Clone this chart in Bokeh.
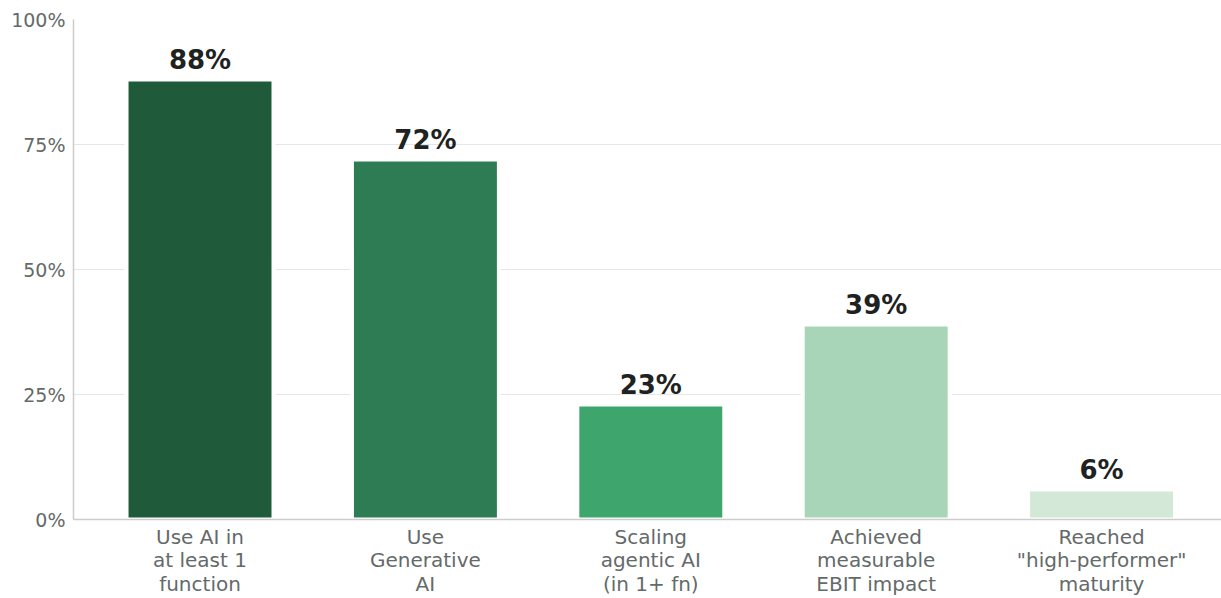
from bokeh.plotting import figure
from bokeh.models import ColumnDataSource, Range1d, PrintfTickFormatter, FixedTicker
from bokeh.core.properties import value
from bokeh.embed import file_html
from bokeh.resources import INLINE

categories = ["Use AI in\nat least 1\nfunction", "Use\nGenerative\nAI", "Scaling\nagentic AI\n(in 1+ fn)",
              "Achieved\nmeasurable\nEBIT impact", "Reached\n\"high-performer\"\nmaturity"]
values = [88, 72, 23, 39, 6]
labels = ["88%", "72%", "23%", "39%", "6%"]
colors = ["#1f5b3b", "#2e7c53", "#3ea66d", "#a8d5b8", "#d3e8d6"]

xs = list(range(len(categories)))
src = ColumnDataSource(dict(x=xs, top=values, lab=labels, color=colors))

p = figure(width=1221, height=598, output_backend="svg", toolbar_location=None,
           x_range=Range1d(-0.5613, 4.532), y_range=Range1d(0, 100),
           min_border_left=73, min_border_right=0, min_border_top=19, min_border_bottom=78)
p.outline_line_color = None

p.vbar(x="x", top="top", width=0.652, bottom=0, fill_color="color", line_color="white",
       line_width=4, source=src)
p.text(x="x", y="top", text="lab", source=src, text_align="center", text_baseline="bottom",
       y_offset=-5, text_font=value("DejaVu Sans"), text_font_style="bold",
       text_font_size="26px", text_color="#1e2322")

p.xgrid.grid_line_color = None
p.ygrid.grid_line_color = "#e6e6e6"
p.ygrid.grid_line_width = 1
p.yaxis.ticker = FixedTicker(ticks=[0, 25, 50, 75, 100])
p.yaxis.formatter = PrintfTickFormatter(format="%d%%")
p.xaxis.ticker = FixedTicker(ticks=xs)
p.xaxis.major_label_overrides = {i: c for i, c in enumerate(categories)}

for ax in (p.xaxis, p.yaxis):
    ax.axis_line_color = "#cccccc"
    ax.axis_line_width = 1.5
    ax.major_tick_line_color = None
    ax.minor_tick_line_color = None
    ax.major_tick_out = 0
    ax.major_tick_in = 0
    ax.major_label_text_font = "DejaVu Sans"
    ax.major_label_text_color = "#646a69"
    ax.major_label_standoff = 8
p.yaxis.major_label_text_font_size = "19px"
p.xaxis.major_label_text_font_size = "20px"
p.xaxis.major_label_text_line_height = 0.98
p.xaxis.major_label_standoff = 5

open("out.html", "w").write(file_html(p, INLINE))
